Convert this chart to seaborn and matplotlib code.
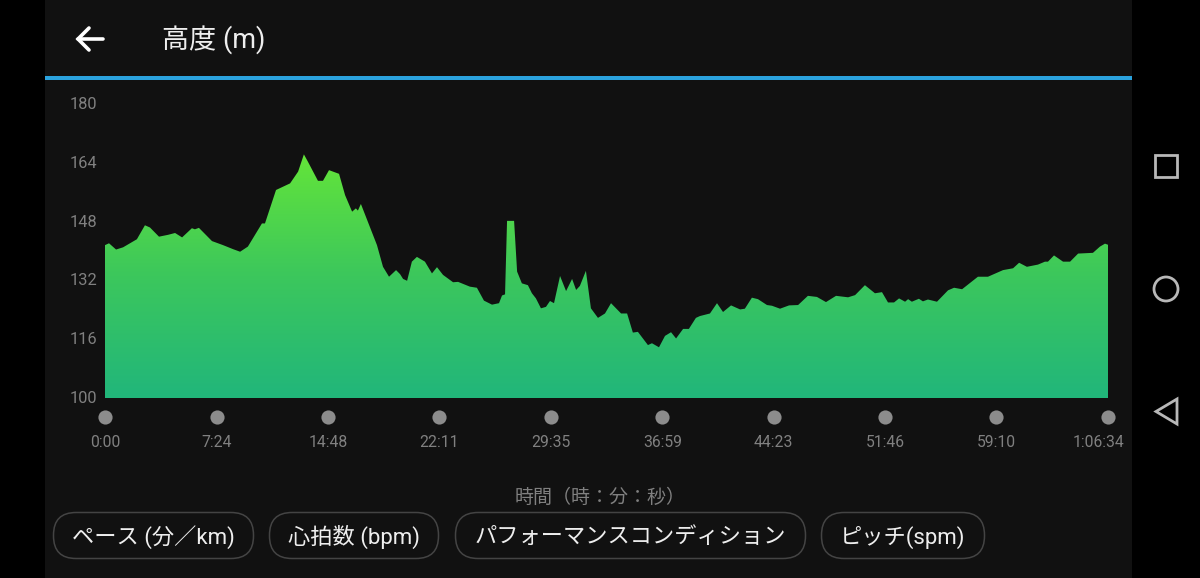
import numpy as np
import pandas as pd
import seaborn as sns
import matplotlib
matplotlib.use('Agg')
import matplotlib.pyplot as plt
from matplotlib.colors import LinearSegmentedColormap
from matplotlib.patches import FancyBboxPatch, Rectangle, Circle, Polygon
from matplotlib.transforms import ScaledTranslation

# elapsed seconds and altitude (m)
time_sec = [0, 16, 44, 72, 127, 159, 179, 215, 251, 279, 307, 346, 358, 374, 426, 470, 510, 538, 569, 625,
            637, 681, 737, 769, 792, 808, 848, 868, 892, 932, 956, 984, 999, 1007, 1019, 1083, 1107, 1131, 1159, 1175,
            1187, 1203, 1222, 1242, 1274, 1302, 1322, 1346, 1386, 1406, 1453, 1481, 1509, 1541, 1569, 1581, 1593, 1601, 1629, 1641,
            1660, 1684, 1700, 1716, 1736, 1756, 1772, 1788, 1812, 1836, 1860, 1876, 1891, 1915, 1935, 1963, 1991, 2015, 2055, 2079,
            2102, 2122, 2162, 2178, 2206, 2230, 2254, 2274, 2302, 2325, 2353, 2369, 2409, 2437, 2461, 2493, 2529, 2548, 2576, 2600,
            2636, 2656, 2688, 2724, 2760, 2799, 2835, 2871, 2911, 2959, 2987, 3026, 3066, 3094, 3118, 3142, 3162, 3186, 3198, 3213,
            3241, 3257, 3277, 3313, 3357, 3381, 3413, 3476, 3516, 3576, 3616, 3640, 3671, 3715, 3743, 3755, 3779, 3815, 3843, 3875,
            3934, 3962, 3982, 3994]
altitude = [141.6, 142.1, 140.4, 141.0, 143.2, 147.0, 146.4, 143.9, 144.4, 144.9, 143.7, 146.2, 145.9, 146.3, 142.7, 141.6, 140.5, 139.8, 141.2, 147.5,
            147.5, 156.6, 158.4, 161.6, 166.3, 164.3, 159.1, 159.1, 162.0, 161.0, 155.2, 150.7, 151.6, 151.0, 152.8, 141.6, 135.7, 133.0, 134.8, 133.7,
            132.4, 131.9, 137.1, 138.4, 137.1, 133.9, 135.6, 133.5, 131.5, 131.6, 130.3, 130.0, 126.5, 125.4, 125.8, 127.9, 128.2, 148.2, 148.2, 134.4,
            131.2, 130.7, 128.5, 127.1, 124.4, 124.8, 126.4, 125.8, 133.2, 129.1, 132.4, 129.4, 130.5, 134.6, 124.4, 121.8, 123.0, 125.8, 123.0, 123.0,
            117.8, 118.0, 114.4, 114.9, 113.8, 116.9, 117.9, 116.2, 118.8, 118.8, 121.8, 122.3, 123.0, 125.8, 123.4, 125.2, 124.1, 124.3, 127.3, 126.9,
            125.3, 125.1, 124.3, 125.2, 125.3, 127.8, 127.5, 126.1, 127.8, 127.4, 128.0, 130.7, 128.5, 128.8, 126.0, 126.0, 127.1, 126.2, 126.9, 126.2,
            127.0, 126.3, 126.8, 126.2, 129.3, 130.0, 129.6, 133.0, 133.0, 134.8, 135.3, 136.8, 135.7, 136.3, 137.1, 137.1, 138.8, 137.1, 137.1, 139.3,
            139.5, 141.2, 142.0, 141.7]

y_ticks = [100, 116, 132, 148, 164, 180]
x_ticks = [0, 444, 888, 1331, 1775, 2219, 2663, 3106, 3550, 3994]
x_labels = ['0:00', '7:24', '14:48', '22:11', '29:35', '36:59', '44:23', '51:46', '59:10', '1:06:34']

title = '高度 (m)'
x_title = '時間（時：分：秒）'
pill_labels = ['ペース (分／km)', '心拍数 (bpm)', 'パフォーマンスコンディション', 'ピッチ(spm)']

sns.set_theme(style='dark')
plt.rcParams['font.family'] = ['Roboto', 'Noto Sans CJK JP', 'DejaVu Sans']

W, H = 1200, 578
fig = plt.figure(figsize=(W / 100, H / 100), dpi=100, facecolor='black')

# screen furniture lives on a full size axes, in pixels
ui = fig.add_axes([0, 0, 1, 1], zorder=0)
ui.set_xlim(0, W)
ui.set_ylim(H, 0)
ui.axis('off')
ui.add_patch(Rectangle((45, 0), 1087, H, fc='#111111', ec='none'))
ui.add_patch(Rectangle((45, 76), 1087, 4, fc='#2ba3de', ec='none'))

# back arrow
ui.plot([78, 103], [39, 39], color='white', lw=2.6, solid_capstyle='round')
ui.plot([89, 78, 89], [28, 39, 50], color='white', lw=2.6, solid_capstyle='round', solid_joinstyle='miter')
ui.text(162, 40, title, color='#eeeeee', fontsize=19.5, va='center', ha='left')
ui.text(600, 498, x_title, color='#808080', fontsize=13.7, va='center', ha='center')

# pills at the bottom
pill_x = [(54, 253), (270, 438), (456, 805), (822, 984)]
for (x0, x1), lab in zip(pill_x, pill_labels):
    ui.add_patch(FancyBboxPatch((x0 + 22, 513 + 22), x1 - x0 - 44, 1, boxstyle='round,pad=22.5,rounding_size=22.5',
                                fc='none', ec='#444444', lw=1.1))
    ui.text((x0 + x1) / 2, 537, lab, color='#eeeeee', fontsize=16, va='center', ha='center')

# android nav buttons
ui.add_patch(Rectangle((1155, 154.5), 22, 22, fc='none', ec='#b8b8b8', lw=2))
ui.add_patch(Circle((1166, 289), 12, fc='none', ec='#b8b8b8', lw=2))
ui.add_patch(Polygon([(1177, 399), (1177, 424), (1156, 411.5)], closed=True, fc='none', ec='#b8b8b8', lw=2))

# the chart itself
ax = fig.add_axes([105 / W, (H - 398) / H, 1003 / W, 294 / H], zorder=1)
ax.patch.set_alpha(0)
df = pd.DataFrame({'time': time_sec, 'altitude': altitude})
sns.lineplot(data=df, x='time', y='altitude', ax=ax, estimator=None, sort=False, linewidth=0)

area = ax.fill_between(df['time'], df['altitude'], 100, facecolor='none', edgecolor='none')
cmap = LinearSegmentedColormap.from_list('alt', ['#21b67b', '#3cc75c', '#64e539'])
grad = np.linspace(1, 0, 256).reshape(-1, 1)
im = ax.imshow(grad, cmap=cmap, aspect='auto', extent=[0, 3994, 100, 166.5], zorder=2)
im.set_clip_path(area.get_paths()[0], area.get_transform())

ax.set_xlim(0, 3994)
ax.set_ylim(100, 180)
ax.set_xlabel('')
ax.set_ylabel('')
ax.grid(False)
sns.despine(ax=ax, left=True, bottom=True)
ax.set_yticks(y_ticks)
ax.set_xticks(x_ticks)
ax.set_xticklabels(x_labels)
ax.tick_params(axis='y', length=0, pad=5.8, labelsize=11.8, labelcolor='#808080')
ax.tick_params(axis='x', length=0, pad=26.5, labelsize=11.3, labelcolor='#808080')

# last label is pushed in so it stays on the screen
last = ax.get_xticklabels()[-1]
last.set_transform(last.get_transform() + ScaledTranslation(-10 / 100, 0, fig.dpi_scale_trans))
for lab in ax.get_yticklabels():
    lab.set_transform(lab.get_transform() + ScaledTranslation(0, 1 / 100, fig.dpi_scale_trans))

# grey dots under the axis
ax.plot(x_ticks, [-19 / 294] * len(x_ticks), 'o', color='#8c8c8c', ms=10.2, mew=0,
        transform=ax.get_xaxis_transform(), clip_on=False)

fig.savefig('out.png', dpi=100, facecolor=fig.get_facecolor())
